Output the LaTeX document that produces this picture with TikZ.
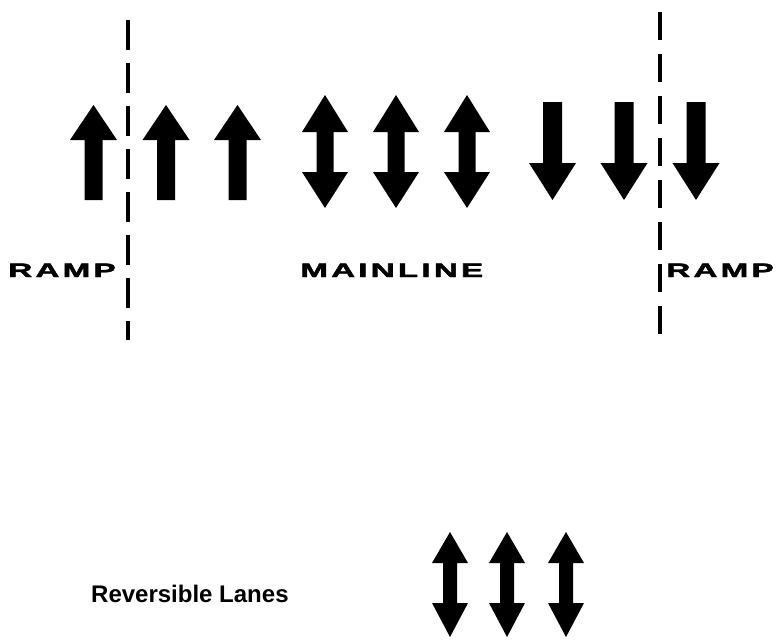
\documentclass[tikz,border=0pt]{standalone}
\usepackage{fontspec}
\newfontfamily\txtfont{Liberation Sans}
\newfontfamily\widefont{Liberation Sans Bold}[FakeBold=1.8]
\newcommand{\lsp}{\kern1.9pt}
\tikzset{
  x=1pt,y=-1pt,
  lanedash/.style={line width=4pt,dash pattern=on 30pt off 13pt},
  arrowfill/.style={fill=black},
  pics/uparr/.style args={#1/#2/#3/#4/#5}{code={
    \fill[arrowfill] (0,#1) -- (#4,#2) -- (#5,#2) -- (#5,#3) -- (-#5,#3) -- (-#5,#2) -- (-#4,#2) -- cycle;
  }},
  pics/dnarr/.style args={#1/#2/#3/#4/#5}{code={
    \fill[arrowfill] (-#5,#1) -- (#5,#1) -- (#5,#2) -- (#4,#2) -- (0,#3) -- (-#4,#2) -- (-#5,#2) -- cycle;
  }},
  pics/dblarr/.style args={#1/#2/#3/#4/#5/#6}{code={
    \fill[arrowfill] (0,#1) -- (#5,#2) -- (#6,#2) -- (#6,#3) -- (#5,#3) -- (0,#4)
      -- (-#5,#3) -- (-#6,#3) -- (-#6,#2) -- (-#5,#2) -- cycle;
  }},
  lbl/.style={inner sep=0pt,anchor=base west,xscale=1.7,transform shape,font=\widefont\fontsize{19.5pt}{22pt}\selectfont},
  txt/.style={inner sep=0pt,anchor=base west,font=\txtfont\bfseries\fontsize{24pt}{26pt}\selectfont}
}
\begin{document}
\begin{tikzpicture}
\useasboundingbox (0,0) rectangle (779,642);
% lane divider lines
\coordinate (l1) at (128,20);
\coordinate (l2) at (128,340);
\coordinate (r1) at (660,12);
\coordinate (r2) at (660,336);
\draw[lanedash] (l1) -- (l2);
\draw[lanedash,dash pattern=on 28pt off 14pt] (r1) -- (r2);
% up arrows
\pic at (93.5,0) {uparr={105/140/200/23.5/9}};
\pic at (166,0) {uparr={105/140/200/23.5/9}};
\pic at (237.5,0) {uparr={105/140/200/23.5/9}};
% double arrows
\pic at (325,0) {dblarr={95/132/172/208/23/8.5}};
\pic at (396,0) {dblarr={95/132/172/208/23/8.5}};
\pic at (467,0) {dblarr={95/132/172/208/23/8.5}};
% down arrows
\pic at (552.5,0) {dnarr={102/163/200/23.5/9.5}};
\pic at (624,0) {dnarr={102/163/200/23.5/9.5}};
\pic at (696,0) {dnarr={102/163/200/23.5/9.5}};
% labels
\node[lbl] (rampL) at (8,277) {R\lsp A\lsp M\lsp P};
\node[lbl] (mainline) at (300,277) {M\lsp A\lsp I\lsp N\lsp L\lsp I\lsp N\lsp E};
\node[lbl] (rampR) at (666,277) {R\lsp A\lsp M\lsp P};
% bottom legend
\node[txt] (rev) at (91,602) {Reversible Lanes};
\pic at (450,0) {dblarr={532/563/603/637/18/7}};
\pic at (507,0) {dblarr={532/563/603/637/18/7}};
\pic at (566,0) {dblarr={532/563/603/637/18/7}};
\end{tikzpicture}
\end{document}
